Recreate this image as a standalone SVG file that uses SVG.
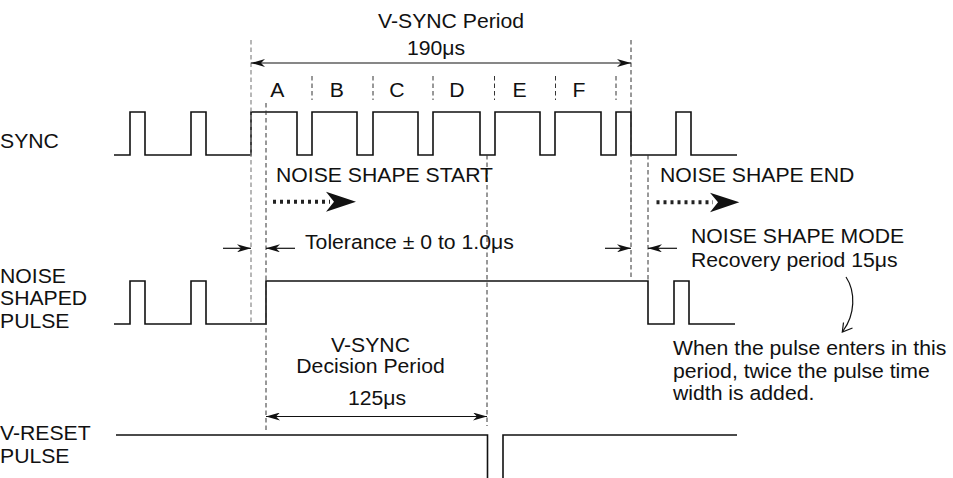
<svg xmlns="http://www.w3.org/2000/svg" width="953" height="478" viewBox="0 0 953 478">
<style>
.t{font-family:"Liberation Sans",Arial,sans-serif;font-size:19.5px;fill:#111}
.w{fill:none;stroke:#111;stroke-width:1.6}
.d{fill:none;stroke:#333;stroke-width:1;stroke-dasharray:4.5 3}
.dg{fill:none;stroke:#888;stroke-width:1.2;stroke-dasharray:4.5 3}
.a{fill:none;stroke:#111;stroke-width:1.2}
.dot{fill:none;stroke:#222;stroke-width:4;stroke-dasharray:3 4}
</style>
<defs>
<marker id="ah" viewBox="0 0 14 8" markerWidth="14" markerHeight="8" refX="14" refY="4" orient="auto-start-reverse" markerUnits="userSpaceOnUse">
<path d="M0,0 L14,4 L0,8 L4,4 z" fill="#111"/>
</marker>
</defs>
<g id="labels">
<text class="t" transform="translate(0,148) scale(1.087,1)">SYNC</text>
<text class="t" transform="translate(0,283) scale(1.087,1)">NOISE</text>
<text class="t" transform="translate(0,305) scale(1.087,1)">SHAPED</text>
<text class="t" transform="translate(0,328) scale(1.087,1)">PULSE</text>
<text class="t" transform="translate(0,440) scale(1.087,1)">V-RESET</text>
<text class="t" transform="translate(0,463) scale(1.087,1)">PULSE</text>
</g>
<g id="sync">
<path class="w" d="M114,155 H130 V112 H145 V155 H191 V112 H206 V155 H251 V112 H297 V155 H312 V112 H357 V155 H373 V112 H418 V155 H433 V112 H480 V155 H495 V112 H540 V155 H555 V112 H601 V155 H616 V112 H631 V155 H676 V112 H691 V155 H737"/>
</g>
<g id="noise-shaped-pulse">
<path class="w" d="M114,324 H130 V281 H145 V324 H191 V281 H206 V324 H266 V281 H648 V324 H674 V281 H689 V324 H735"/>
</g>
<g id="v-reset-pulse">
<path class="w" d="M116,435 H487.5 V478 M503,478 V435 H737"/>
</g>
<g id="guides">
<line class="dg" x1="251" y1="40" x2="251" y2="322"/>
<line class="d" x1="266" y1="103" x2="266" y2="430"/>
<line class="d" x1="312" y1="76" x2="312" y2="100"/>
<line class="d" x1="373" y1="76" x2="373" y2="100"/>
<line class="d" x1="433" y1="76" x2="433" y2="100"/>
<line class="d" x1="494.5" y1="76" x2="494.5" y2="100"/>
<line class="d" x1="555.5" y1="76" x2="555.5" y2="100"/>
<line class="d" x1="616" y1="76" x2="616" y2="100"/>
<line class="d" x1="487" y1="155" x2="487" y2="426"/>
<line class="d" x1="631" y1="40" x2="631" y2="280"/>
<line class="d" x1="648" y1="155" x2="648" y2="280"/>
</g>
<g id="segments">
<text class="t" transform="translate(277.3,97) scale(1.087,1)" text-anchor="middle">A</text>
<text class="t" transform="translate(336.7,97) scale(1.087,1)" text-anchor="middle">B</text>
<text class="t" transform="translate(397,97) scale(1.087,1)" text-anchor="middle">C</text>
<text class="t" transform="translate(457,97) scale(1.087,1)" text-anchor="middle">D</text>
<text class="t" transform="translate(519.5,97) scale(1.087,1)" text-anchor="middle">E</text>
<text class="t" transform="translate(579,97) scale(1.087,1)" text-anchor="middle">F</text>
</g>
<g id="annotations">
<text class="t" transform="translate(378,28) scale(1.087,1)">V-SYNC Period</text>
<text class="t" transform="translate(407,55) scale(1.087,1)">190μs</text>
<text class="t" transform="translate(276,182) scale(1.087,1)">NOISE SHAPE START</text>
<text class="t" transform="translate(660,182) scale(1.087,1)">NOISE SHAPE END</text>
<text class="t" transform="translate(305,249) scale(1.087,1)">Tolerance ± 0 to 1.0μs</text>
<text class="t" transform="translate(691,243) scale(1.087,1)">NOISE SHAPE MODE</text>
<text class="t" transform="translate(691,267) scale(1.087,1)">Recovery period 15μs</text>
<text class="t" transform="translate(370.5,352) scale(1.087,1)" text-anchor="middle">V-SYNC</text>
<text class="t" transform="translate(370.5,373) scale(1.087,1)" text-anchor="middle">Decision Period</text>
<text class="t" transform="translate(377,405) scale(1.087,1)" text-anchor="middle">125μs</text>
<text class="t" transform="translate(673,355) scale(1.087,1)">When the pulse enters in this</text>
<text class="t" transform="translate(673,377.5) scale(1.087,1)">period, twice the pulse time</text>
<text class="t" transform="translate(673,400) scale(1.087,1)">width is added.</text>
</g>
<g id="connectors">
<line class="a" x1="251" y1="63" x2="631" y2="63" marker-start="url(#ah)" marker-end="url(#ah)"/>
<line class="a" x1="266" y1="416.5" x2="487" y2="416.5" marker-start="url(#ah)" marker-end="url(#ah)"/>
<line class="a" x1="223" y1="248.3" x2="251" y2="248.3" marker-end="url(#ah)"/>
<line class="a" x1="295" y1="248.3" x2="266" y2="248.3" marker-end="url(#ah)"/>
<line class="a" x1="605" y1="248.3" x2="631" y2="248.3" marker-end="url(#ah)"/>
<line class="a" x1="677" y1="248.3" x2="648" y2="248.3" marker-end="url(#ah)"/>
<line class="dot" x1="273" y1="201.7" x2="330" y2="201.7"/>
<path d="M356,201.7 L326,191.7 L334,201.7 L326,211.7 z" fill="#111"/>
<line class="dot" x1="656.5" y1="202.3" x2="713" y2="202.3"/>
<path d="M739.3,202.3 L710,192.7 L718,202.3 L710,212.3 z" fill="#111"/>
<path class="a" d="M846,277 C856,292 855,315 843,331"/>
<path class="a" d="M843.5,322.5 L842.3,332 L852.5,328"/>
</g>
</svg>
